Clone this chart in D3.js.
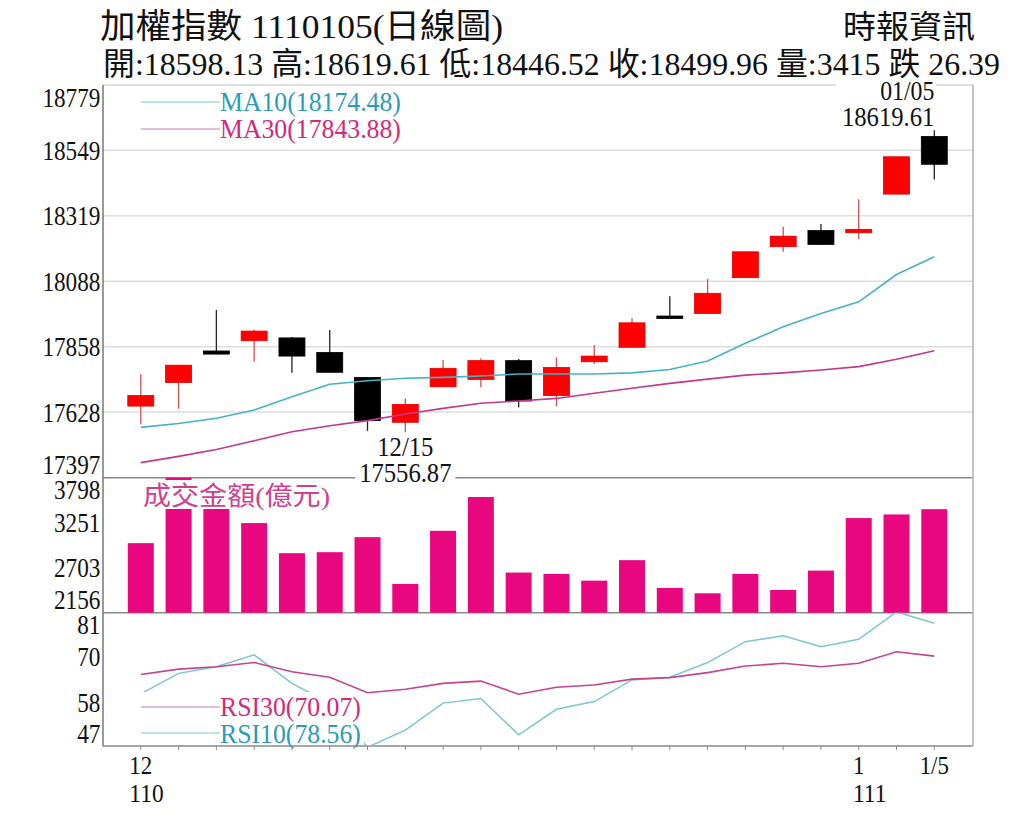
<!DOCTYPE html>
<html>
<head>
<meta charset="utf-8">
<script src="https://cdn.jsdelivr.net/npm/d3@7"></script>
<style>
  body { margin: 0; background: #fff; }
</style>
</head>
<body>
<div id="chart"></div>
<script>
// Data
const dates = ['12/06','12/07','12/08','12/09','12/10','12/13','12/14','12/15','12/16','12/17','12/20',
  '12/21','12/22','12/23','12/24','12/27','12/28','12/29','12/30','01/03','01/04','01/05'];
const openP  = [17649,17732,17843,17879,17889,17838,17750,17592,17717,17743,17809,
  17686,17805,17856,17966,17975,18101,18210,18267,18259,18395,18598.13];
const highP  = [17761,17794,17987,17918,17892,17917,17751,17676,17811,17817,17815,
  17821,17864,17958,18036,18096,18192,18280,18290,18377,18526.35,18619.61];
const lowP   = [17585,17640,17831,17805,17766,17768,17562,17556.87,17717,17715,17645,
  17649,17797,17856,17958,17975,18100,18192,18218,18237,18395,18446.52];
const closeP = [17686,17793,17832,17913,17825,17768,17598,17655,17782,17809,17667,
  17785,17825,17942,17958,18046,18192,18247,18218,18271,18526.35,18499.96];
const ma10 = [17574,17588,17606,17635,17682,17726,17738,17747,17750,17755,17762,
  17762,17762,17766,17778,17808,17870,17928,17975,18016,18112,18174.48];
const ma30 = [17450,17472,17496,17527,17559,17580,17598,17621,17641,17659,17667,
  17676,17694,17712,17729,17744,17758,17766,17776,17788,17814,17843.88];
const volume = [3002,3798,3560,3246,2880,2892,3075,2506,3152,3563,2644,
  2628,2546,2795,2457,2392,2628,2433,2668,3307,3351,3415];
const rsi30 = [65.3,66.7,67.3,68.4,66.0,64.6,60.6,61.5,63.0,63.6,60.2,
  62.0,62.6,64.1,64.5,65.8,67.5,68.2,67.3,68.2,71.2,70.07];
const rsi10 = [60.3,65.6,67.3,70.4,63.0,57.9,46.5,50.9,57.9,59.1,49.7,
  56.3,58.3,63.9,64.6,68.4,73.8,75.3,72.5,74.4,81.5,78.56];

const priceTicks = [17397,17628,17858,18088,18319,18549,18779];
const volTicks = [2156,2703,3251,3798];
const rsiTicks = [47,58,70,81];

const title = '加權指數 1110105(日線圖)';
const info = '開:18598.13 高:18619.61 低:18446.52 收:18499.96 量:3415 跌 26.39';
const source = '時報資訊';

const width = 1024, height = 815;
const left = 103, right = 973;
const pTop = 85, pBot = 477.7, vBot = 612.7, rBot = 746;
const serif = "'Liberation Serif','Noto Sans CJK TC',serif";

const svg = d3.select('#chart').append('svg')
  .attr('width', width).attr('height', height);

const x = d3.scalePoint().domain(dates).range([140.8, 934.3]);
const yP = d3.scaleLinear().domain([17397, 18779]).range([pBot, pTop]);
const yV = d3.scaleLinear().domain([2156, 3798]).range([vBot, pBot]);
const yR = d3.scaleLinear().domain([46.8, 81.3]).range([rBot, vBot]);

// condensed serif text helper
function txt(str, tx, ty, opt) {
  opt = opt || {};
  const t = svg.append('text')
    .attr('transform', `translate(${tx},${ty}) scale(${opt.sx || 0.88},1)`)
    .attr('font-family', serif)
    .attr('font-size', opt.size || 28)
    .attr('fill', opt.color || '#111')
    .attr('text-anchor', opt.anchor || 'start')
    .text(str);
  return t;
}
// text forced to a given width (used for CJK strings)
function fitTxt(str, tx, ty, w, size, color) {
  return svg.append('text')
    .attr('x', tx).attr('y', ty)
    .attr('font-family', serif)
    .attr('font-size', size)
    .attr('fill', color || '#111')
    .attr('textLength', w)
    .attr('lengthAdjust', 'spacingAndGlyphs')
    .text(str);
}

// header
fitTxt(title, 100, 38, 403, 34);
fitTxt(source, 843, 38, 132, 32);
fitTxt(info, 103, 75, 897, 32);

// gridlines in price panel
svg.append('g').selectAll('line')
  .data(priceTicks.slice(1, -1))
  .enter().append('line')
  .attr('x1', left).attr('x2', right)
  .attr('y1', d => yP(d)).attr('y2', d => yP(d))
  .attr('stroke', '#dedede').attr('stroke-width', 1.5);

// frame
const frame = svg.append('g').attr('fill', 'none');
frame.append('line').attr('x1', left).attr('x2', right).attr('y1', pTop).attr('y2', pTop)
  .attr('stroke', '#d4d4d4').attr('stroke-width', 1.5);
[pBot, vBot, rBot].forEach(yy => {
  frame.append('line').attr('x1', left).attr('x2', right).attr('y1', yy).attr('y2', yy)
    .attr('stroke', '#8a8a8a').attr('stroke-width', 1.5);
});
frame.append('line').attr('x1', right).attr('x2', right).attr('y1', pTop).attr('y2', rBot)
  .attr('stroke', '#b0b0b0').attr('stroke-width', 1.5);
frame.append('line').attr('x1', left).attr('x2', left).attr('y1', pTop).attr('y2', rBot)
  .attr('stroke', '#777').attr('stroke-width', 1.5);

// x ticks
svg.append('g').selectAll('line')
  .data(dates).enter().append('line')
  .attr('x1', d => x(d)).attr('x2', d => x(d))
  .attr('y1', rBot).attr('y2', rBot + 4)
  .attr('stroke', '#888').attr('stroke-width', 1);

// left axes
function leftAxis(scale, ticks, top, bot) {
  const g = svg.append('g')
    .attr('transform', `translate(${left},0)`)
    .call(d3.axisLeft(scale).tickValues(ticks).tickSize(0).tickPadding(3).tickFormat(d3.format('d')));
  g.select('.domain').remove();
  g.selectAll('.tick')
    .attr('transform', d => `translate(0,${Math.max(top + 13, Math.min(bot - 12, scale(d) + 1))})`);
  g.selectAll('text')
    .attr('font-family', serif)
    .attr('font-size', 27)
    .attr('fill', '#111')
    .attr('transform', 'scale(0.86,1)');
}
leftAxis(yP, priceTicks, pTop, pBot);
leftAxis(yV, volTicks, pBot, vBot);
leftAxis(yR, rsiTicks, vBot, rBot);

// candles
const bodyW = 26;
const cg = svg.append('g');
dates.forEach((d, i) => {
  const up = closeP[i] >= openP[i];
  const col = up ? '#ff0000' : '#000';
  cg.append('line')
    .attr('x1', x(d)).attr('x2', x(d))
    .attr('y1', yP(highP[i])).attr('y2', yP(lowP[i]))
    .attr('stroke', up ? '#d05050' : '#222').attr('stroke-width', 1.3);
  const yTop = yP(Math.max(openP[i], closeP[i]));
  const h = Math.max(Math.abs(yP(openP[i]) - yP(closeP[i])), 2.5);
  cg.append('rect')
    .attr('x', x(d) - bodyW / 2).attr('y', yTop)
    .attr('width', bodyW).attr('height', h)
    .attr('fill', col)
    .attr('stroke', up ? '#e00000' : '#000').attr('stroke-width', 0.8);
});

// moving averages
const lineGen = (vals, ys) => d3.line().x((v, i) => x(dates[i])).y(v => ys(v))(vals);
svg.append('path').attr('d', lineGen(ma10, yP))
  .attr('fill', 'none').attr('stroke', '#45b3c3').attr('stroke-width', 1.6);
svg.append('path').attr('d', lineGen(ma30, yP))
  .attr('fill', 'none').attr('stroke', '#c2388c').attr('stroke-width', 1.6);

// MA legend
svg.append('line').attr('x1', 141).attr('x2', 220).attr('y1', 102).attr('y2', 102)
  .attr('stroke', '#a6d9df').attr('stroke-width', 1.5);
svg.append('line').attr('x1', 141).attr('x2', 220).attr('y1', 129).attr('y2', 129)
  .attr('stroke', '#d9a9c6').attr('stroke-width', 1.5);
txt('MA10(' + ma10[ma10.length - 1].toFixed(2) + ')', 220, 111, { color: '#2a9cb4', sx: 0.92 });
txt('MA30(' + ma30[ma30.length - 1].toFixed(2) + ')', 220, 138, { color: '#d2297a', sx: 0.92 });

// high / low annotations
const last = dates.length - 1;
svg.append('rect').attr('x', 836).attr('y', 80).attr('width', 100).attr('height', 48).attr('fill', '#fff');
txt(dates[last], x(dates[last]), 100, { anchor: 'end', size: 27 });
txt(highP[last].toFixed(2), x(dates[last]), 126, { anchor: 'end' });

const lowIdx = d3.minIndex(lowP);
svg.append('rect').attr('x', x(dates[lowIdx]) - 50).attr('y', 461).attr('width', 100).attr('height', 24).attr('fill', '#fff');
txt(dates[lowIdx], x(dates[lowIdx]), 456, { anchor: 'middle' });
txt(lowP[lowIdx].toFixed(2), x(dates[lowIdx]), 482, { anchor: 'middle' });

// volume bars
svg.append('g').selectAll('rect')
  .data(volume).enter().append('rect')
  .attr('x', (v, i) => x(dates[i]) - bodyW / 2)
  .attr('y', v => yV(v))
  .attr('width', bodyW)
  .attr('height', v => vBot - yV(v))
  .attr('fill', '#e9077f');
svg.append('rect').attr('x', 140).attr('y', 480).attr('width', 196).attr('height', 29).attr('fill', '#fff');
fitTxt('成交金額(億元)', 143, 505, 187, 26, '#d0408c');

// RSI lines
svg.append('clipPath').attr('id', 'rsiClip')
  .append('rect').attr('x', left).attr('y', vBot).attr('width', right - left).attr('height', rBot - vBot);
const rg = svg.append('g').attr('clip-path', 'url(#rsiClip)');
rg.append('path').attr('d', lineGen(rsi10, yR))
  .attr('fill', 'none').attr('stroke', '#7cc6cf').attr('stroke-width', 1.5);
rg.append('path').attr('d', lineGen(rsi30, yR))
  .attr('fill', 'none').attr('stroke', '#c4458f').attr('stroke-width', 1.6);

// RSI legend (white box hides lines behind it)
svg.append('rect').attr('x', 138).attr('y', 692).attr('width', 226).attr('height', 53).attr('fill', '#fff');
svg.append('line').attr('x1', 141).attr('x2', 220).attr('y1', 707).attr('y2', 707)
  .attr('stroke', '#d9a9c6').attr('stroke-width', 1.5);
svg.append('line').attr('x1', 141).attr('x2', 220).attr('y1', 733).attr('y2', 733)
  .attr('stroke', '#a6d9df').attr('stroke-width', 1.5);
txt('RSI30(' + rsi30[rsi30.length - 1].toFixed(2) + ')', 220, 716, { color: '#d2297a', sx: 0.92 });
txt('RSI10(' + rsi10[rsi10.length - 1].toFixed(2) + ')', 220, 743, { color: '#2a9cb4', sx: 0.92 });

// x axis labels
function monthLabel(i, m, yr) {
  const cx = x(dates[i]);
  const t = txt(m, cx, 774, { anchor: 'middle', size: 26, sx: 0.88 });
  const w = t.node().getBBox().width * 0.88;
  if (yr) txt(yr, cx - w / 2, 802, { size: 26, sx: 0.9 });
}
monthLabel(0, '12', '110');
monthLabel(19, '1', '111');
monthLabel(last, '1/5');
</script>
</body>
</html>
